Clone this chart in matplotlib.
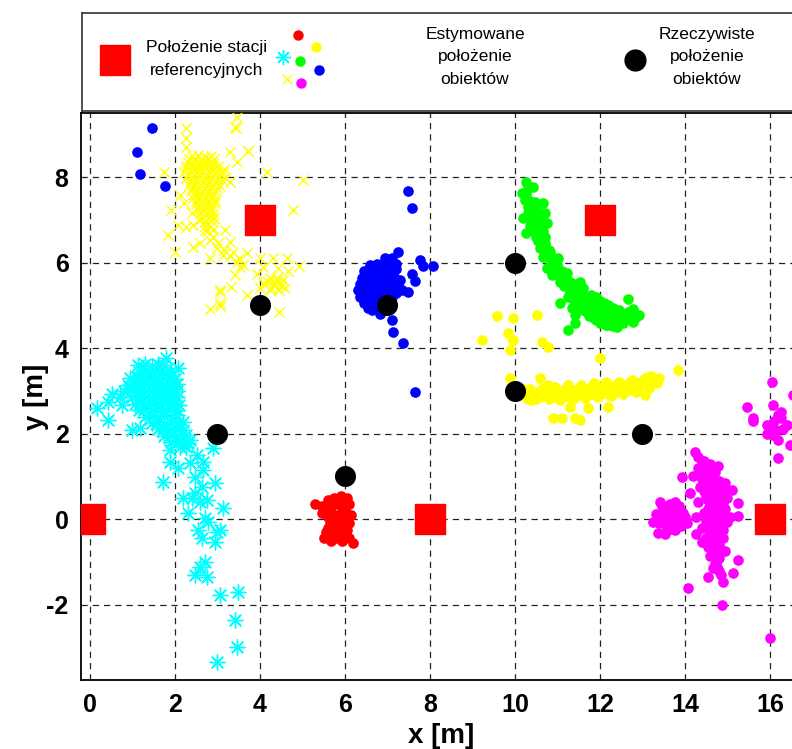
import matplotlib
matplotlib.use("Agg")
import matplotlib.pyplot as plt

# fonts
plt.rcParams['font.family'] = ['Liberation Sans', 'DejaVu Sans']
plt.rcParams['axes.unicode_minus'] = False

# reference stations
ref_x = [0, 4, 8, 12, 16]
ref_y = [0, 7, 0, 7, 0]

# true object positions
true_x = [4, 7, 10, 3, 6, 10, 13]
true_y = [5, 5, 6, 2, 1, 3, 2]

# estimated positions - red (object at 6,1)
red_x = [5.3, 5.45, 5.6, 5.75, 5.9, 6.05, 6.1, 5.55, 5.7, 5.85, 6.0, 5.6, 5.75, 5.9, 6.05,
         5.65, 5.8, 5.95, 6.1, 5.6, 5.75, 5.9, 6.05, 5.5, 5.65, 5.8, 5.95, 6.1, 6.2, 5.55,
         6.15, 5.45, 5.68, 5.92]
red_y = [0.35, 0.3, 0.45, 0.5, 0.55, 0.5, 0.35, 0.2, 0.3, 0.35, 0.25, 0.05, 0.1, 0.15, 0.05,
         -0.1, -0.05, -0.05, -0.1, -0.2, -0.25, -0.2, -0.25, -0.45, -0.4, -0.45, -0.4, -0.45, -0.55, -0.3,
         0.1, 0.15, -0.5, -0.52]

# estimated positions - blue (object at 7,5)
blue_x = [1.46, 1.1, 1.18, 1.76, 7.49, 7.57, 7.25, 7.76, 7.84, 8.08, 7.57, 7.65, 7.48, 6.63,
          6.82, 7.1, 7.13, 7.37, 7.65,
          6.95, 7.1,
          6.6, 6.75, 6.9, 7.05, 7.2,
          6.45, 6.6, 6.75, 6.9, 7.05, 7.2,
          6.4, 6.55, 6.7, 6.85, 7.0, 7.15, 7.3,
          6.35, 6.5, 6.65, 6.8, 6.95, 7.1, 7.25,
          6.3, 6.45, 6.6, 6.75, 6.9, 7.05, 7.2, 7.35,
          6.35, 6.5, 6.65, 6.8, 6.95, 7.1,
          6.45, 6.6, 6.75, 6.9,
          6.55, 6.7]
blue_y = [9.15, 8.58, 8.07, 7.79, 7.68, 7.29, 6.25, 6.06, 5.92, 5.92, 5.73, 5.57, 5.32, 4.89,
          4.81, 4.65, 4.38, 4.12, 2.98,
          6.1, 6.12,
          5.95, 5.98, 5.96, 6.0, 5.97,
          5.8, 5.82, 5.79, 5.83, 5.8, 5.85,
          5.65, 5.66, 5.63, 5.67, 5.64, 5.66, 5.6,
          5.5, 5.52, 5.48, 5.5, 5.51, 5.47, 5.45,
          5.37, 5.35, 5.33, 5.36, 5.34, 5.32, 5.3, 5.35,
          5.2, 5.22, 5.18, 5.2, 5.21, 5.2,
          5.06, 5.04, 5.05, 5.08,
          4.95, 4.96]

# estimated positions - green (object at 10,6)
green_x = [10.27, 10.43, 10.16, 10.24, 10.47, 10.66, 10.71, 10.75, 10.27, 10.2, 10.43, 10.55,
           10.55, 10.59, 10.82, 11.02, 10.66, 10.75, 10.98, 10.86, 11.22, 11.06, 11.29, 11.53,
           11.06, 11.41, 11.25, 11.41, 12.66, 12.78, 12.92, 12.78, 12.16, 12.31,
           10.6, 10.7, 10.8, 10.9, 11.0, 11.1, 11.2, 11.3, 11.35, 11.5, 11.6, 11.7, 11.8, 11.9,
           12.0, 12.1, 12.2, 12.3, 12.4, 12.5, 12.6, 12.7,
           11.3, 11.45, 11.55, 11.65, 11.75, 11.85, 11.95, 12.05, 12.15, 12.25, 12.35, 12.0,
           12.1, 12.2, 12.3, 11.8, 11.9, 11.6, 11.4, 11.15, 11.25, 11.5, 11.7, 12.45, 12.55,
           12.0, 11.9, 12.15, 10.4, 10.35, 10.5, 10.3, 10.45, 10.65,
           10.55, 10.65, 10.75, 10.85, 10.95, 11.05, 11.15, 11.25, 11.45, 11.55, 11.65, 11.75,
           11.85, 11.95, 12.05, 12.15, 12.25, 12.35, 12.45, 12.6, 12.65, 12.75, 12.85,
           11.4, 11.5, 11.6, 11.75, 11.85, 12.05, 12.25, 11.35, 12.4,
           10.25, 10.3, 10.35, 10.4, 10.5, 10.55, 10.6, 10.6, 10.3, 10.35, 10.5, 10.7]
green_y = [7.89, 7.77, 7.62, 7.46, 7.42, 7.39, 7.16, 6.93, 6.69, 7.04, 7.07, 6.8,
           6.53, 6.34, 6.25, 6.1, 6.14, 5.87, 5.9, 5.71, 5.75, 5.55, 5.47, 5.55,
           5.05, 4.77, 4.42, 4.58, 5.15, 4.91, 4.77, 4.62, 4.54, 4.51,
           6.6, 6.45, 6.3, 6.1, 5.95, 5.8, 5.65, 5.55, 5.4, 5.35, 5.25, 5.15, 5.1, 5.0,
           4.95, 4.9, 4.85, 4.8, 4.75, 4.8, 4.75, 4.7,
           5.3, 5.2, 5.1, 5.0, 4.95, 4.85, 4.8, 4.75, 4.7, 4.65, 4.6, 5.1,
           5.05, 5.0, 4.95, 5.25, 5.2, 5.4, 5.5, 5.45, 5.2, 4.95, 4.85, 4.9, 4.6,
           4.6, 4.65, 4.55, 7.2, 7.0, 6.9, 7.3, 6.75, 6.75,
           6.5, 6.35, 6.2, 6.0, 5.85, 5.7, 5.6, 5.45, 5.4, 5.3, 5.2, 5.05,
           4.95, 4.9, 4.85, 4.8, 4.75, 4.7, 4.65, 4.65, 4.85, 4.78, 4.72,
           5.1, 5.05, 4.9, 4.75, 4.7, 4.65, 4.55, 4.95, 4.5,
           7.6, 7.75, 7.45, 7.35, 7.25, 7.1, 7.0, 6.85, 7.15, 6.85, 6.6, 6.6]

# estimated positions - yellow dots (object at 10,3)
ydot_x = [9.57, 9.96, 10.51, 9.22, 9.84, 9.96, 9.88, 10.63, 10.78, 12.0, 13.84, 9.88, 10.59,
          10.78, 11.29, 11.72, 12.19, 10.9, 11.1, 11.41, 11.53, 10.39, 13.06,
          10.25, 10.4, 10.55, 10.7, 10.85, 11.0, 11.15, 11.3, 11.45, 11.6, 11.75, 11.9, 12.05,
          12.2, 12.35, 12.5, 12.65, 12.8, 12.95, 13.1, 13.25, 13.4,
          10.35, 10.5, 10.65, 10.8, 10.95, 11.1, 11.25, 11.4, 11.55, 11.7, 11.85, 12.0, 12.15,
          12.3, 12.45, 12.6, 12.75, 12.9, 13.05, 13.2,
          10.9, 11.05, 11.2, 11.35, 11.5, 11.65, 11.8, 11.95, 12.1, 12.25, 12.4, 12.55, 12.7,
          12.85, 13.0, 13.15, 13.35,
          10.3, 10.45, 10.6, 10.75, 10.9, 11.05, 11.2, 11.35, 11.5, 11.65, 11.8, 11.95, 12.1,
          12.25, 12.4, 12.55, 12.7, 12.85, 13.0, 13.15, 13.3,
          10.6, 10.9, 11.2, 11.5, 11.8, 12.1, 12.4, 12.7, 10.15, 10.2, 10.3]
ydot_y = [4.75, 4.7, 4.77, 4.19, 4.35, 4.19, 3.95, 4.15, 4.03, 3.76, 3.49, 3.3, 3.3,
          3.13, 2.63, 2.6, 2.63, 2.36, 2.36, 2.36, 2.32, 2.78, 2.9,
          2.92, 2.88, 2.95, 2.9, 2.95, 2.93, 2.98, 2.95, 3.0, 2.97, 3.02, 3.0, 3.05,
          3.03, 3.08, 3.06, 3.12, 3.1, 3.18, 3.2, 3.25, 3.3,
          3.05, 2.82, 3.08, 2.8, 3.1, 2.85, 3.14, 2.84, 3.15, 2.9, 3.18, 2.92, 3.2,
          2.95, 3.22, 3.0, 3.25, 3.05, 3.3, 3.35,
          3.02, 2.78, 3.05, 2.8, 3.08, 2.83, 3.1, 2.86, 3.13, 2.88, 3.16, 2.92, 3.2,
          2.98, 3.22, 3.08, 3.18,
          2.98, 2.95, 3.0, 2.98, 3.02, 3.0, 3.04, 3.02, 3.06, 3.05, 3.08, 3.07, 3.1,
          3.1, 3.13, 3.14, 3.17, 3.2, 3.22, 3.26, 3.28,
          2.85, 2.86, 2.88, 2.9, 2.92, 2.95, 2.98, 3.02, 2.9, 3.05, 2.8]

# estimated positions - magenta (object at 13,2)
mag_x = [16.04, 15.45, 15.6, 15.6, 16.07, 16.27, 16.2, 15.92, 15.92, 16.07, 16.2, 16.19, 16.0,
         16.27, 16.04, 16.15, 16.47, 16.54, 16.39, 16.1, 16.3,
         14.24, 14.78, 13.92, 14.12, 15.1, 15.25, 15.25, 13.41, 13.76, 13.33, 13.25, 13.37,
         13.53, 13.76, 14.04, 14.27, 14.39, 14.98, 14.75, 15.25, 15.14, 14.9, 14.55, 14.08,
         14.86, 14.75,
         13.45, 13.55, 13.65, 13.5, 13.6, 13.7, 13.8, 13.85, 13.9, 13.75, 13.6, 13.95, 14.0, 13.4,
         14.3, 14.45, 14.6, 14.3, 14.5, 14.7, 14.2, 14.4, 14.6, 14.8, 14.95, 14.35, 14.55, 14.75,
         14.9, 14.5, 14.7, 14.85, 15.0, 14.6, 14.8, 14.95, 14.45, 14.65, 14.85, 15.05, 14.5,
         14.7, 14.9, 14.4, 14.6, 14.8, 14.5, 14.7, 14.9, 14.55, 14.75, 14.6, 14.8, 14.7, 14.8,
         14.85, 14.95, 14.3, 14.25,
         14.4, 14.55, 14.4, 14.65, 14.5, 14.7, 14.85, 14.45, 14.65, 14.8, 14.55, 14.75, 14.9,
         14.55, 14.7, 14.9, 14.6, 14.8, 14.95, 14.55, 14.75, 14.9, 14.6, 14.75, 14.6, 14.8,
         14.7, 14.75, 14.65, 13.5, 13.65, 13.7, 13.55, 13.8, 13.85]
mag_y = [3.21, 2.63, 2.36, 2.3, 2.67, 2.5, 2.43, 2.2, 2.0, 1.96, 1.85, 1.43, -2.78,
         2.36, 2.15, 2.08, 1.73, 2.9, 2.2, 2.3, 2.1,
         1.57, 1.24, 0.99, 0.62, 0.69, 0.37, 0.07, 0.41, 0.41, 0.13, -0.06, -0.32,
         -0.35, -0.26, -0.1, -0.35, -0.53, -0.06, -0.32, -0.96, -1.25, -1.47, -1.35, -1.62,
         -2.01, -1.12,
         0.3, 0.2, 0.35, 0.05, -0.05, 0.1, 0.2, 0.0, -0.15, -0.2, -0.25, 0.15, 0.05, -0.1,
         1.45, 1.35, 1.3, 1.2, 1.15, 1.1, 1.0, 0.95, 0.95, 0.9, 0.85, 0.75, 0.75, 0.7,
         0.65, 0.55, 0.5, 0.45, 0.5, 0.35, 0.3, 0.25, 0.15, 0.1, 0.1, 0.05, -0.05,
         -0.1, -0.1, -0.2, -0.25, -0.3, -0.45, -0.5, -0.45, -0.65, -0.7, -0.85, -0.9, -1.05, -1.2,
         -1.3, -0.75, 0.4, 0.05,
         1.3, 1.2, 1.05, 1.05, 0.85, 0.85, 0.78, 0.65, 0.62, 0.58, 0.45, 0.4, 0.38,
         0.25, 0.2, 0.18, 0.0, 0.0, -0.02, -0.15, -0.2, -0.25, -0.35, -0.4, -0.55, -0.6,
         -0.8, -0.95, -1.15, 0.2, 0.15, -0.1, -0.15, 0.05, 0.3]

# estimated positions - cyan stars (object at 3,2)
cyan_x = [0.16, 0.42, 0.51, 0.42, 1.8, 1.13, 2.07, 0.75, 0.98, 1.18,
          2.9, 2.35, 2.07, 1.88, 2.51, 2.66, 2.66, 2.47, 1.72, 2.94, 2.63, 2.47, 2.19, 2.39,
          2.59, 2.75, 3.13, 2.31, 2.71, 2.78, 2.54, 2.98, 2.63, 2.94, 3.06, 2.71, 2.59, 2.47,
          2.75, 3.06, 3.48, 3.41, 3.46, 2.98, 1.88, 2.12, 2.27, 2.35,
          1.3, 1.45, 1.6, 1.75,
          1.15, 1.3, 1.45, 1.6, 1.75, 1.9,
          0.95, 1.1, 1.25, 1.4, 1.55, 1.7, 1.85, 2.0,
          0.9, 1.05, 1.2, 1.35, 1.5, 1.65, 1.8, 1.95, 2.05,
          0.8, 1.0, 1.15, 1.3, 1.45, 1.6, 1.75, 1.9, 2.05,
          0.7, 1.0, 1.15, 1.3, 1.45, 1.6, 1.75, 1.9, 2.05,
          1.05, 1.2, 1.35, 1.5, 1.65, 1.8, 1.95, 2.1,
          1.15, 1.3, 1.45, 1.6, 1.75, 1.9, 2.05,
          1.3, 1.45, 1.6, 1.75, 1.9, 2.05,
          1.45, 1.6, 1.75, 1.9, 2.05, 2.2,
          1.6, 1.75, 1.9, 2.05, 2.2,
          1.75, 1.9, 2.05, 2.25,
          1.9, 2.1, 2.3]
cyan_y = [2.6, 2.32, 2.94, 2.74, 3.76, 3.6, 3.53, 2.67, 2.08, 2.13,
          1.66, 1.31, 1.19, 1.33, 1.5, 1.33, 1.15, 0.98, 0.87, 0.84, 0.75, 0.61, 0.49, 0.49,
          0.4, 0.44, 0.26, 0.14, 0.02, -0.07, -0.26, -0.3, -0.44, -0.54, -0.26, -1.0, -1.12, -1.31,
          -1.35, -1.78, -1.71, -2.36, -2.99, -3.35, 1.61, 1.68, 1.68, 1.85,
          3.62, 3.58, 3.64, 3.6,
          3.45, 3.48, 3.43, 3.47, 3.44, 3.46,
          3.3, 3.32, 3.28, 3.31, 3.29, 3.33, 3.3, 3.27,
          3.15, 3.17, 3.13, 3.16, 3.14, 3.18, 3.15, 3.12, 3.16,
          3.0, 3.02, 2.98, 3.01, 2.99, 3.03, 3.0, 2.97, 3.01,
          2.85, 2.87, 2.83, 2.86, 2.84, 2.88, 2.85, 2.82, 2.86,
          2.7, 2.72, 2.68, 2.71, 2.69, 2.73, 2.7, 2.67,
          2.55, 2.57, 2.53, 2.56, 2.54, 2.58, 2.55,
          2.4, 2.42, 2.38, 2.41, 2.39, 2.43,
          2.25, 2.27, 2.23, 2.26, 2.24, 2.28,
          2.1, 2.12, 2.08, 2.11, 2.09,
          1.95, 1.97, 1.93, 1.96,
          1.8, 1.82, 1.78]

# estimated positions - yellow x (object at 4,5)
yx_x = [3.45, 3.44, 2.26, 2.26, 2.26, 3.29, 3.72, 3.45, 1.74, 4.16, 5.01, 3.29, 2.12, 2.21,
        1.9, 4.77, 2.39, 2.07, 2.27, 2.43, 1.84, 2.59, 2.71, 2.9, 3.18, 2.82, 2.59, 2.43,
        3.29, 3.02, 2.0, 2.82, 3.14, 3.37, 3.45, 3.69, 4.0, 4.31, 4.63, 4.92, 3.53, 4.07,
        4.42, 4.66, 3.41, 3.92, 4.24, 4.39, 4.47, 4.07, 4.31, 4.59, 4.24, 3.33, 3.06, 3.69,
        4.0, 3.06, 3.06, 2.82, 3.06, 4.45, 3.41, 3.72,
        2.4, 2.55, 2.7, 2.85,
        2.3, 2.45, 2.6, 2.75, 2.9,
        2.25, 2.4, 2.55, 2.7, 2.85, 3.0, 3.15,
        2.3, 2.45, 2.6, 2.75, 2.9, 3.05,
        2.35, 2.5, 2.65, 2.8, 2.95, 3.1,
        2.4, 2.55, 2.7, 2.85, 3.0,
        2.45, 2.6, 2.75, 2.9,
        2.5, 2.65, 2.8, 2.95,
        2.55, 2.7, 2.85,
        2.6, 2.75, 2.9,
        2.7, 2.85,
        2.75, 2.9,
        2.32, 2.47, 2.62, 2.77, 2.92,
        2.27, 2.42, 2.57, 2.72, 2.87, 3.02,
        2.22, 2.37, 2.52, 2.67, 2.82, 2.97, 3.12,
        2.27, 2.42, 2.57, 2.72, 2.87, 3.02, 3.17,
        2.32, 2.47, 2.62, 2.77, 2.92, 3.07,
        2.37, 2.52, 2.67, 2.82, 2.97,
        2.42, 2.57, 2.72, 2.87,
        2.5, 2.65, 2.8, 2.95,
        2.55, 2.7, 2.85,
        2.62, 2.77, 2.92,
        2.7, 2.85,
        2.9, 3.0, 3.15, 3.3, 3.5, 3.6,
        4.2, 4.35, 4.5, 4.4, 4.55, 4.25, 4.45]
yx_y = [9.41, 9.15, 9.15, 8.92, 8.71, 8.59, 8.61, 8.36, 8.12, 8.12, 7.93, 7.89, 7.58, 7.39,
        7.23, 7.23, 7.16, 6.88, 6.84, 6.88, 6.64, 6.99, 6.76, 7.04, 6.76, 6.53, 6.46, 6.37,
        6.49, 6.46, 6.25, 6.1, 6.18, 6.25, 6.02, 6.22, 6.1, 6.1, 6.1, 5.93, 5.9, 5.9,
        5.87, 5.8, 5.71, 5.73, 5.64, 5.64, 5.52, 5.52, 5.47, 5.4, 5.36, 5.43, 5.36, 5.24,
        5.4, 5.05, 5.32, 4.91, 4.98, 4.84, 9.17, 8.62,
        8.5, 8.52, 8.48, 8.5,
        8.35, 8.37, 8.33, 8.36, 8.34,
        8.2, 8.22, 8.18, 8.21, 8.19, 8.23, 8.2,
        8.05, 8.07, 8.03, 8.06, 8.04, 8.08,
        7.9, 7.92, 7.88, 7.91, 7.89, 7.93,
        7.75, 7.77, 7.73, 7.76, 7.74,
        7.6, 7.62, 7.58, 7.61,
        7.45, 7.47, 7.43, 7.46,
        7.3, 7.32, 7.28,
        7.15, 7.17, 7.13,
        6.95, 6.97,
        6.75, 6.77,
        8.42, 8.43, 8.41, 8.44, 8.42,
        8.27, 8.28, 8.26, 8.29, 8.27, 8.25,
        8.12, 8.13, 8.11, 8.14, 8.12, 8.1, 8.13,
        7.97, 7.98, 7.96, 7.99, 7.97, 7.95, 7.98,
        7.82, 7.83, 7.81, 7.84, 7.82, 7.8,
        7.67, 7.68, 7.66, 7.69, 7.67,
        7.52, 7.53, 7.51, 7.54,
        7.37, 7.38, 7.36, 7.39,
        7.22, 7.23, 7.21,
        7.05, 7.06, 7.04,
        6.85, 6.86,
        6.6, 6.35, 6.3, 6.15, 6.1, 5.95,
        5.55, 5.5, 5.45, 5.6, 5.6, 5.4, 5.35]

fig = plt.figure(figsize=(7.92, 7.49), dpi=100)
ax = fig.add_axes([81 / 792, 1 - 680 / 749, 720 / 792, 567 / 749])

dot = 44
ax.scatter(red_x, red_y, s=dot, c='#ff0000', zorder=3)
ax.scatter(blue_x, blue_y, s=dot, c='#0000ff', zorder=3)
ax.scatter(green_x, green_y, s=dot, c='#00ff00', zorder=3)
ax.scatter(ydot_x, ydot_y, s=dot, c='#ffff00', zorder=3)
ax.scatter(mag_x, mag_y, s=dot, c='#ff00ff', zorder=3)
ax.scatter(cyan_x, cyan_y, s=120, c='#00ffff', marker=(8, 2, 0), linewidths=1, zorder=3)
ax.scatter(yx_x, yx_y, s=55, c='#ffff00', marker='x', linewidths=1, zorder=3)
ax.scatter(ref_x, ref_y, s=470, c='#ff0000', marker='s', zorder=4)
ax.scatter(true_x, true_y, s=200, c='black', marker='o', zorder=5)

ax.set_xlim(-0.21, 16.73)
ax.set_ylim(-3.76, 9.5)
ax.set_xticks(range(0, 17, 2))
ax.set_yticks(range(-2, 9, 2))
ax.grid(True, color='#222222', linestyle=(0, (5, 4)), linewidth=0.9)
ax.tick_params(direction='in', length=0, labelsize=18, pad=9)
for lbl in ax.get_xticklabels() + ax.get_yticklabels():
    lbl.set_fontweight('bold')
ax.spines['right'].set_visible(False)
for side in ['left', 'bottom', 'top']:
    ax.spines[side].set_linewidth(1.3)
ax.set_xlabel('x [m]', fontsize=20, fontweight='bold', labelpad=5)
ax.set_ylabel('y [m]', fontsize=20, fontweight='bold', labelpad=-2)

# legend box
lg = fig.add_axes([82 / 792, 1 - 111 / 749, 720 / 792, 98 / 749])
lg.set_xlim(82, 802)
lg.set_ylim(111, 13)
lg.set_xticks([])
lg.set_yticks([])
for sp in lg.spines.values():
    sp.set_linewidth(1.2)
    sp.set_color('#333333')
lfont = dict(fontsize=12.5, ha='center', va='center', linespacing=1.6)
lg.plot(115, 60, 's', ms=22, color='#ff0000')
lg.text(207, 59, 'Położenie stacji\nreferencyjnych', **lfont)
lg.plot(298, 35, 'o', ms=6.5, color='#ff0000')
lg.plot(316, 47, 'o', ms=6.5, color='#ffff00')
lg.plot(283, 57, marker=(8, 2, 0), ms=11, mew=1, color='#00ffff')
lg.plot(300, 61, 'o', ms=6.5, color='#00ff00')
lg.plot(319, 70, 'o', ms=6.5, color='#0000ff')
lg.plot(287, 79, 'x', ms=6.5, mew=1, color='#ffff00')
lg.plot(301, 83, 'o', ms=6.5, color='#ff00ff')
lg.text(475, 57, 'Estymowane\npołożenie\nobiektów', **lfont)
lg.plot(635, 60, 'o', ms=15, color='black')
lg.text(707, 57, 'Rzeczywiste\npołożenie\nobiektów', **lfont)

fig.savefig('out.png', dpi=100)
